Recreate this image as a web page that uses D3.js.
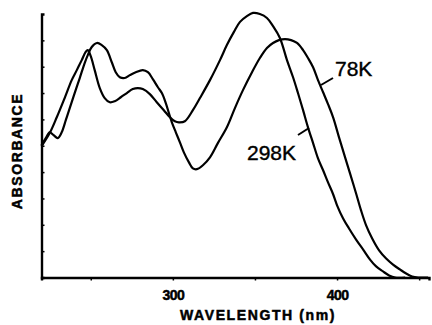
<!DOCTYPE html>
<html lang="en">
	<head>
		<meta charset="utf-8">
		<title>Absorbance spectra 298K / 78K</title>
		<script type="text/javascript" src="https://cdn.jsdelivr.net/npm/d3@7"></script>
		<style type="text/css">
			body { margin: 0; background: #fff; }
			text { font-family: "Liberation Sans", Arial, sans-serif; fill: #000; }
		</style>
	</head>
	<body>
		<script type="text/javascript">

			// wavelength (nm) and absorbance (arb. units, 0-10)
			var wl298 = [220, 225, 229.3, 234.1, 238.4, 241.5, 244.5, 246.9, 248.2, 250, 252.4, 255.5, 258.5, 261.6, 264.6, 268.3, 272, 275.6, 278.7, 281.7, 286, 290.2, 294.5, 298.2, 301.2, 303.7, 307.3, 312.2, 316.5, 322.6, 328.7, 332.9, 337.2, 340.9, 345.1, 348.8, 353, 357.3, 361, 365.2, 369.5, 373.2, 376.2, 379.3, 382.3, 385.4, 388.4, 391.5, 394.5, 397.6, 400, 403.7, 407.3, 411.6, 415.9, 420.1, 423.8, 428, 431.7, 435.4, 441.5];
			var abs298 = [4.98, 5.48, 6.08, 6.81, 7.49, 7.87, 8.25, 8.56, 8.63, 8.40, 7.87, 7.19, 6.81, 6.65, 6.69, 6.84, 7.00, 7.15, 7.19, 7.15, 6.96, 6.65, 6.35, 6.08, 5.93, 5.89, 5.93, 6.35, 6.81, 7.49, 8.25, 8.82, 9.32, 9.70, 9.92, 10.04, 10.0, 9.85, 9.54, 9.09, 8.25, 7.60, 7.00, 6.35, 5.70, 5.10, 4.52, 4.07, 3.61, 3.16, 2.74, 2.24, 1.86, 1.44, 1.06, 0.68, 0.42, 0.23, 0.08, 0, 0];

			var wl78 = [220, 222.6, 225, 227.4, 229.9, 232.3, 234.8, 237.2, 240.2, 243.3, 246.3, 248.2, 250.6, 253.7, 256.7, 259.8, 262.8, 265.2, 267.7, 270.7, 273.8, 277.4, 281.7, 284.8, 287.8, 290.9, 293.3, 295.7, 297.6, 299.4, 301.8, 304.3, 306.7, 309.8, 312.2, 314.6, 318.3, 322.6, 327.4, 332.9, 337.8, 342.7, 348.2, 353, 357.3, 361, 364.6, 368.3, 372, 375.6, 379.3, 382.3, 385.4, 388.4, 391.5, 394.5, 397.6, 401.2, 404.9, 407.9, 411.6, 414.6, 417.7, 421.4, 425.6, 429.9, 434.1, 438.4, 442.1, 445.7, 449.4, 455.5];
			var abs78 = [5.02, 5.29, 5.51, 5.40, 5.29, 5.51, 5.97, 6.43, 7.00, 7.57, 8.14, 8.44, 8.75, 8.90, 8.82, 8.63, 8.17, 7.79, 7.60, 7.57, 7.68, 7.79, 7.87, 7.79, 7.53, 7.22, 7.00, 6.62, 6.24, 5.89, 5.51, 5.13, 4.75, 4.37, 4.14, 4.11, 4.26, 4.56, 5.10, 5.70, 6.43, 7.11, 7.79, 8.33, 8.71, 8.90, 9.01, 9.05, 9.01, 8.90, 8.63, 8.33, 7.98, 7.49, 7.03, 6.58, 6.08, 5.32, 4.56, 3.95, 3.19, 2.55, 1.98, 1.48, 1.03, 0.72, 0.49, 0.30, 0.15, 0.04, 0, 0];

			var xTicks = [250, 300, 350, 400, 450];
			var xTickLabels = ["", "300", "", "400", ""];
			var yTicks = [1, 2, 3, 4, 5, 6, 7, 8, 9];

			var w = 432;
			var h = 325;

			var svg = d3.select("body")
						.append("svg")
						.attr("width", w)
						.attr("height", h);

			var x = d3.scaleLinear().domain([220, 456]).range([41.5, 429]);
			var y = d3.scaleLinear().domain([0, 10]).range([277.5, 14]);

			//x axis, ticks pointing down, only 300 and 400 labelled
			var xAxis = d3.axisBottom(x)
						.tickValues(xTicks)
						.tickSize(3)
						.tickPadding(10)
						.tickFormat(function(d, i){ return xTickLabels[i]; });

			var gx = svg.append("g")
						.attr("transform", "translate(0," + y(0) + ")")
						.call(xAxis);
			gx.select(".domain").attr("stroke", "#000").attr("stroke-width", 2.4);
			gx.selectAll(".tick line").attr("stroke", "#000").attr("stroke-width", 1.5);
			gx.selectAll(".tick text")
				.attr("font-size", "14px")
				.attr("font-weight", "bold")
				.attr("font-family", "'Liberation Sans', Arial, sans-serif")
				.attr("letter-spacing", "-0.5px")
				.attr("stroke", "#000")
				.attr("stroke-width", 0.5)
				.attr("fill", "#000");

			//y axis, inward ticks, no labels
			var yAxis = d3.axisLeft(y)
						.tickValues(yTicks)
						.tickSize(-3)
						.tickFormat("");

			var gy = svg.append("g")
						.attr("transform", "translate(" + x(220) + ",0)")
						.call(yAxis);
			gy.select(".domain").attr("stroke", "#000").attr("stroke-width", 2.4);
			gy.selectAll(".tick line").attr("stroke", "#000").attr("stroke-width", 1.5);

			var line = d3.line()
						.x(function(d){ return x(d[0]); })
						.y(function(d){ return y(d[1]); })
						.curve(d3.curveCatmullRom.alpha(0.5));

			var series = [
				{ name: "298K", pts: d3.zip(wl298, abs298) },
				{ name: "78K", pts: d3.zip(wl78, abs78) }
			];

			svg.selectAll("path.spec")
				.data(series)
				.enter()
				.append("path")
				.attr("class", "spec")
				.attr("fill", "none")
				.attr("stroke", "#000")
				.attr("stroke-width", 2.2)
				.attr("stroke-linejoin", "round")
				.attr("d", function(d){ return line(d.pts); });

			//curve labels with leader lines
			svg.append("line")
				.attr("x1", 321).attr("y1", 85).attr("x2", 333).attr("y2", 78)
				.attr("stroke", "#000").attr("stroke-width", 2);
			svg.append("text")
				.attr("x", 335).attr("y", 76)
				.attr("font-size", "21px")
				.attr("stroke", "#000")
				.attr("stroke-width", 0.4)
				.text("78K");

			svg.append("line")
				.attr("x1", 298).attr("y1", 135).attr("x2", 309).attr("y2", 128)
				.attr("stroke", "#000").attr("stroke-width", 2);
			svg.append("text")
				.attr("x", 247).attr("y", 160)
				.attr("font-size", "21px")
				.attr("stroke", "#000")
				.attr("stroke-width", 0.4)
				.text("298K");

			//axis titles
			svg.append("text")
				.attr("x", 258).attr("y", 320)
				.attr("text-anchor", "middle")
				.attr("font-size", "14px")
				.attr("font-weight", "bold")
				.attr("letter-spacing", "1.6px")
				.attr("stroke", "#000")
				.attr("stroke-width", 0.5)
				.text("WAVELENGTH (nm)");

			svg.append("text")
				.attr("transform", "translate(22,151) rotate(-90)")
				.attr("text-anchor", "middle")
				.attr("font-size", "14px")
				.attr("font-weight", "bold")
				.attr("letter-spacing", "1.6px")
				.attr("stroke", "#000")
				.attr("stroke-width", 0.5)
				.text("ABSORBANCE");

		</script>
	</body>
</html>
